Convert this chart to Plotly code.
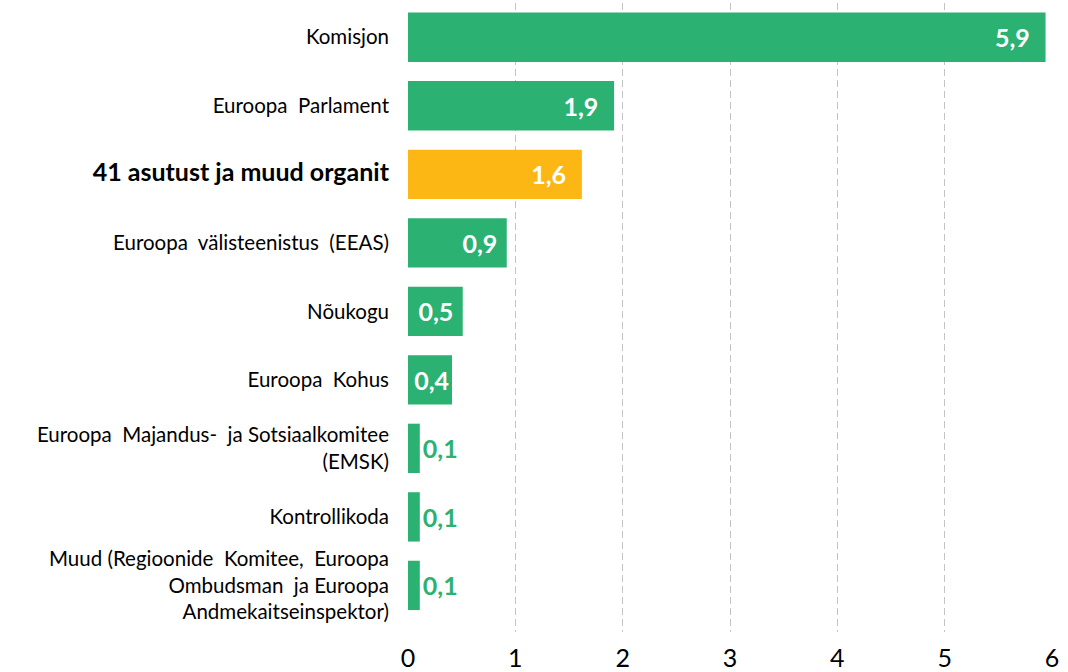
import plotly.graph_objects as go

categories = [
    "Komisjon",
    "Euroopa  Parlament",
    "<b>41 asutust ja muud organit</b>",
    "Euroopa  välisteenistus  (EEAS)",
    "Nõukogu",
    "Euroopa  Kohus",
    "Euroopa  Majandus-  ja Sotsiaalkomitee<br>(EMSK)",
    "Kontrollikoda",
    "Muud (Regioonide  Komitee,  Euroopa<br>Ombudsman  ja Euroopa<br>Andmekaitseinspektor)",
]
values = [5.94, 1.92, 1.62, 0.92, 0.51, 0.41, 0.11, 0.11, 0.11]
highlight = [False, False, True, False, False, False, False, False, False]
x_ticks = [0, 1, 2, 3, 4, 5, 6]

GREEN = "#2BB273"
YELLOW = "#FCB715"
FONT = "Lato, Open Sans, sans-serif"

colors = [YELLOW if h else GREEN for h in highlight]
positions = ["inside" if v >= 0.3 else "outside" for v in values]
text_colors = ["white" if v >= 0.3 else GREEN for v in values]


def label_template(v):
    pad = "\u00a0\u00a0" if v >= 1 else ("\u00a0" if v >= 0.5 else "")
    return "<b>%{x:.1f}</b>" + pad


templates = [label_template(v) for v in values]

ticktext = []
for c in categories:
    if c.startswith("<b>"):
        ticktext.append('<span style="font-size:25px">' + c + "</span>")
    else:
        ticktext.append(c)

fig = go.Figure(
    go.Bar(
        y=list(range(len(categories))),
        x=values,
        orientation="h",
        marker=dict(color=colors, line=dict(width=0)),
        width=0.72,
        texttemplate=templates,
        textposition=positions,
        insidetextanchor="end",
        constraintext="none",
        textfont=dict(size=25, color=text_colors, family=FONT),
        cliponaxis=False,
        hoverinfo="skip",
    )
)

fig.update_layout(
    width=1068,
    height=672,
    margin=dict(l=408, r=16, t=3, b=40),
    plot_bgcolor="white",
    paper_bgcolor="white",
    separators=", ",
    showlegend=False,
    font=dict(family=FONT, color="black"),
)

fig.update_xaxes(
    range=[0, 6.0],
    tickvals=x_ticks,
    ticktext=[str(t) for t in x_ticks],
    tickfont=dict(size=25),
    showgrid=True,
    gridcolor="#C4C4C4",
    griddash="7px,4px",
    gridwidth=1,
    zeroline=False,
    showline=False,
    ticks="",
    ticklabelstandoff=9,
    automargin=False,
)

fig.update_yaxes(
    range=[8.68, -0.5],
    tickvals=list(range(len(categories))),
    ticktext=ticktext,
    tickfont=dict(size=20.5),
    showgrid=False,
    zeroline=False,
    showline=False,
    ticks="",
    ticklabelstandoff=18,
    automargin=False,
)

fig.write_html(
    "out.html",
    config={"displayModeBar": False},
    post_script="document.body.style.margin='0';document.body.style.padding='0';",
)
